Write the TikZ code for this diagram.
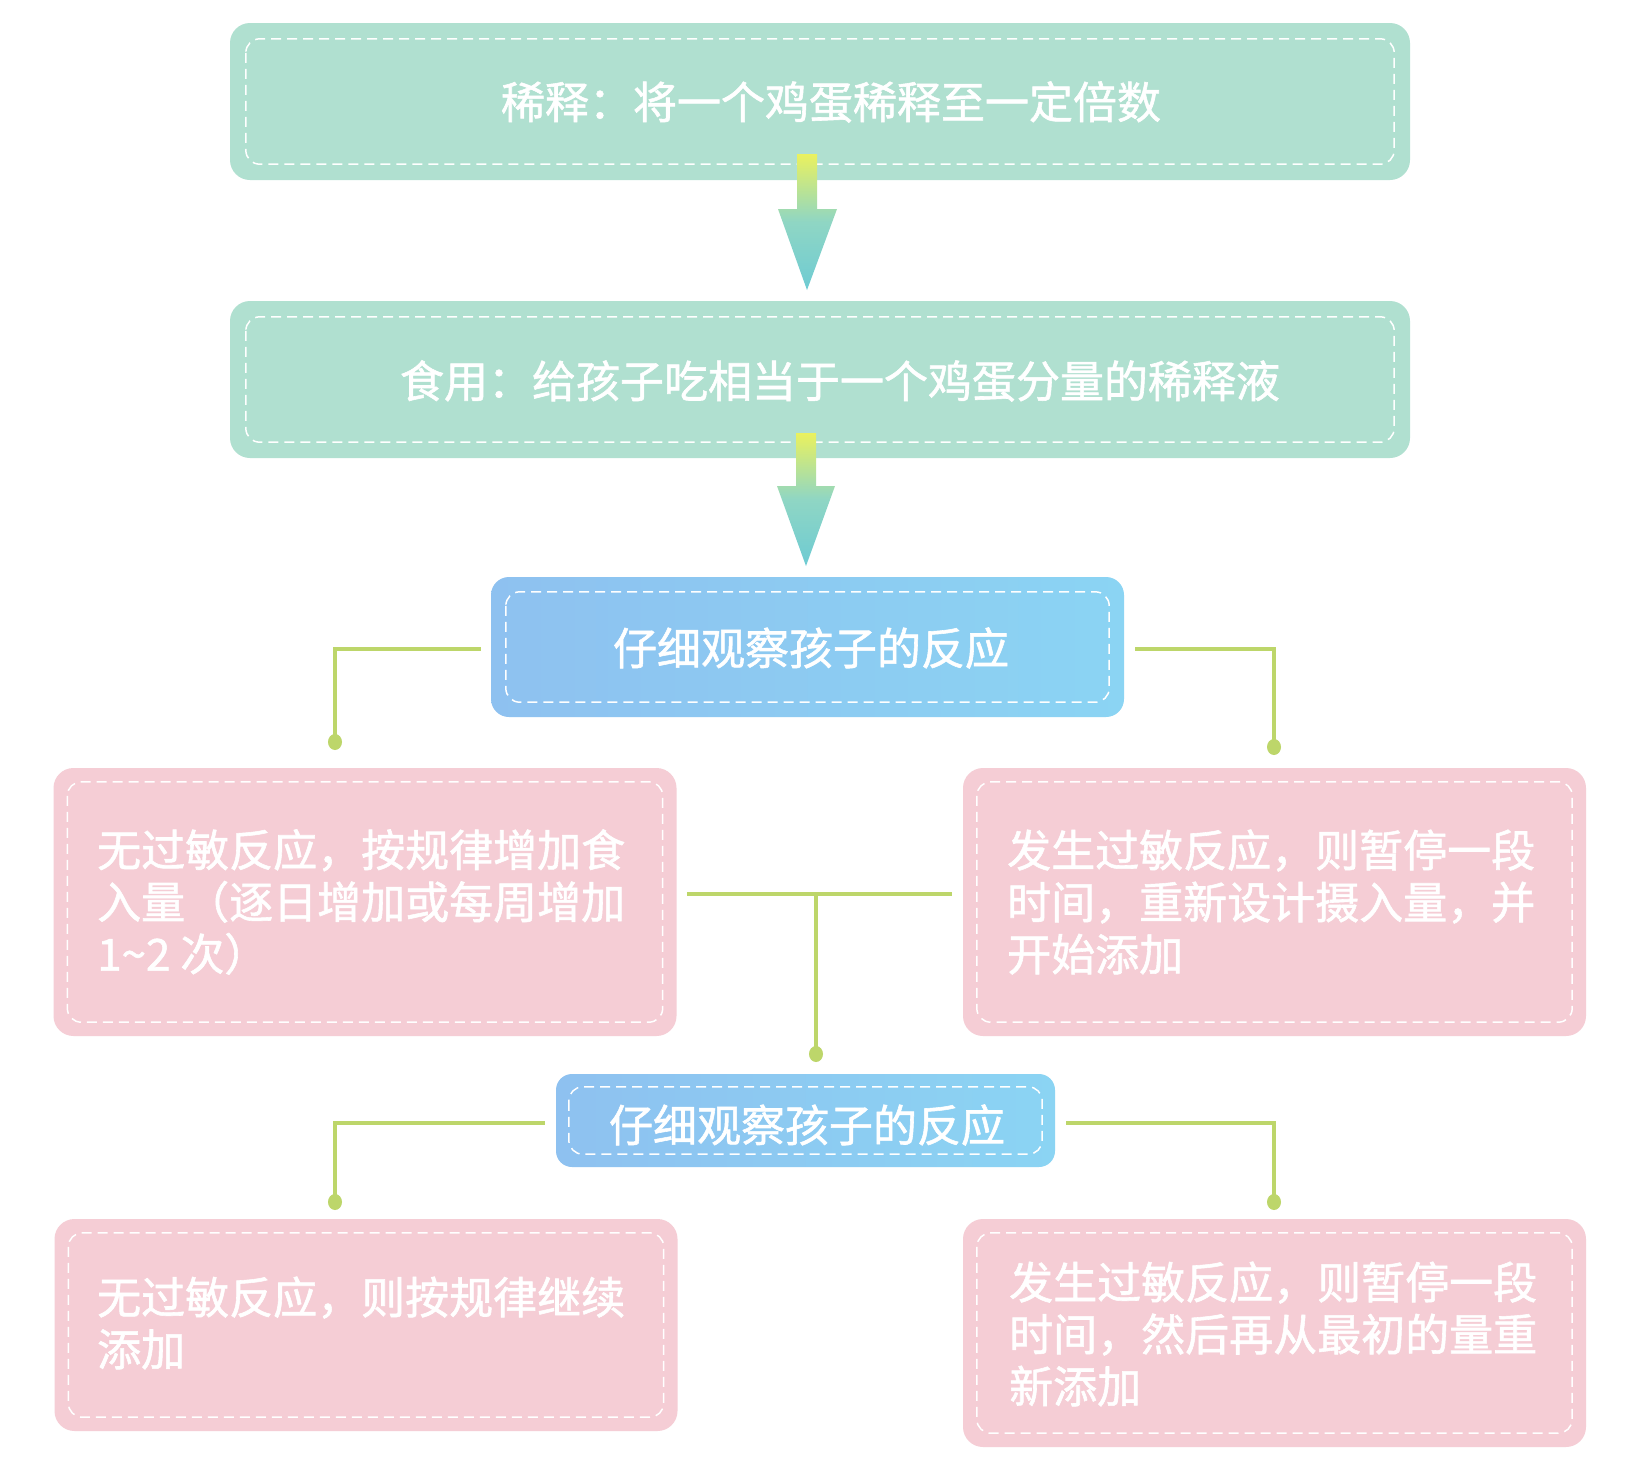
\documentclass[tikz,border=0pt]{standalone}
\usepackage{fontspec}
\newfontfamily\cjk{Noto Sans CJK SC}[FakeBold=1.3]
\usetikzlibrary{calc}
\definecolor{boxgreen}{HTML}{B0E0D0}
\definecolor{boxpink}{HTML}{F5CDD5}
\definecolor{blueL}{HTML}{8EC1F0}
\definecolor{blueR}{HTML}{8BD4F3}
\definecolor{conngreen}{HTML}{BDD66A}
\definecolor{arrY}{HTML}{EAF15E}
\definecolor{arrM}{HTML}{8FD6C4}
\definecolor{arrT}{HTML}{6ECBD3}
\tikzset{
  gbox/.style={fill=boxgreen, rounded corners=20, inner sep=0, minimum width=1180, minimum height=157},
  bbox/.style={left color=blueL, right color=blueR, rounded corners=18, inner sep=0},
  pbox/.style={fill=boxpink, rounded corners=20, inner sep=0, minimum width=623},
  innerdash/.style={draw=white, line width=1.5pt, dash pattern=on 10pt off 6pt, rounded corners=14},
  txt/.style={text=white, font=\cjk\fontsize{44}{52}\selectfont, inner sep=0},
  conn/.style={draw=conngreen, line width=3.5pt},
  bigarrow/.style={top color=arrY, bottom color=arrT, middle color=arrM}
}
\newcommand{\innerbox}[2]{\draw[innerdash] ($(#1.north west)+(#2,#2)$) rectangle ($(#1.south east)+(-#2,-#2)$);}
\newcommand{\dotat}[1]{\fill[conngreen] (#1) ellipse [x radius=7, y radius=8];}
\begin{document}
\begin{tikzpicture}[x=1pt,y=-1pt]
\useasboundingbox (0,0) rectangle (1630,1481);
\fill[white] (0,0) rectangle (1630,1481);

% top green boxes
\node[gbox] (b1) at (820,101.5) {};
\innerbox{b1}{16}
\node[txt] (t1) at (831,102) {稀释：将一个鸡蛋稀释至一定倍数};

\node[gbox] (b2) at (820,379.5) {};
\innerbox{b2}{16}
\node[txt] (t2) at (840,381) {食用：给孩子吃相当于一个鸡蛋分量的稀释液};

% big arrows
\path[bigarrow] (797,154) -- (817,154) -- (817,209) -- (837,209) -- (807,290) -- (778,209) -- (797,209) -- cycle;
\path[bigarrow] (796,433) -- (816,433) -- (816,486) -- (835,486) -- (806,566) -- (777,486) -- (796,486) -- cycle;

% first observation box
\node[bbox, minimum width=633, minimum height=140] (b3) at (807.5,647) {};
\innerbox{b3}{15}
\node[txt] (t3) at (811,648) {仔细观察孩子的反应};

% pink boxes row 1
\node[pbox, minimum height=268] (l1) at (365,902) {};
\innerbox{l1}{14}
\node[txt, anchor=west, align=left] (tl1) at (97,902) {无过敏反应，按规律增加食\\入量（逐日增加或每周增加\\1\textasciitilde 2 次）};

\node[pbox, minimum height=268] (r1) at (1274.5,902) {};
\innerbox{r1}{14}
\node[txt, anchor=west, align=left] (tr1) at (1007,902) {发生过敏反应，则暂停一段\\时间，重新设计摄入量，并\\开始添加};

% second observation box
\node[bbox, minimum width=499, minimum height=93, rounded corners=16] (b4) at (805.5,1120.5) {};
\innerbox{b4}{13}
\node[txt] (t4) at (807,1125) {仔细观察孩子的反应};

% pink boxes row 2
\node[pbox, minimum height=212] (l2) at (366,1325) {};
\innerbox{l2}{14}
\node[txt, anchor=west, align=left] (tl2) at (97,1323) {无过敏反应，则按规律继续\\添加};

\node[pbox, minimum height=228] (r2) at (1274.5,1333) {};
\innerbox{r2}{14}
\node[txt, anchor=west, align=left] (tr2) at (1009,1334) {发生过敏反应，则暂停一段\\时间，然后再从最初的量重\\新添加};

% connectors
\coordinate (d1) at (335,742);
\coordinate (d2) at (1274,747);
\coordinate (m1) at (687,894);
\coordinate (m2) at (952,894);
\coordinate (mc) at (816,894);
\coordinate (d3) at (816,1054);
\coordinate (d4) at (335,1202);
\coordinate (d5) at (1274,1202);

\draw[conn] ($(b3.west)+(-10,2)$) -| (d1);
\draw[conn] ($(b3.east)+(11,2)$) -| (d2);
\draw[conn] (m1) -- (m2);
\draw[conn] (mc) -- (d3);
\draw[conn] ($(b4.west)+(-11,2.5)$) -| (d4);
\draw[conn] ($(b4.east)+(11,2.5)$) -| (d5);
\dotat{d1}
\dotat{d2}
\dotat{d3}
\dotat{d4}
\dotat{d5}
\end{tikzpicture}
\end{document}
